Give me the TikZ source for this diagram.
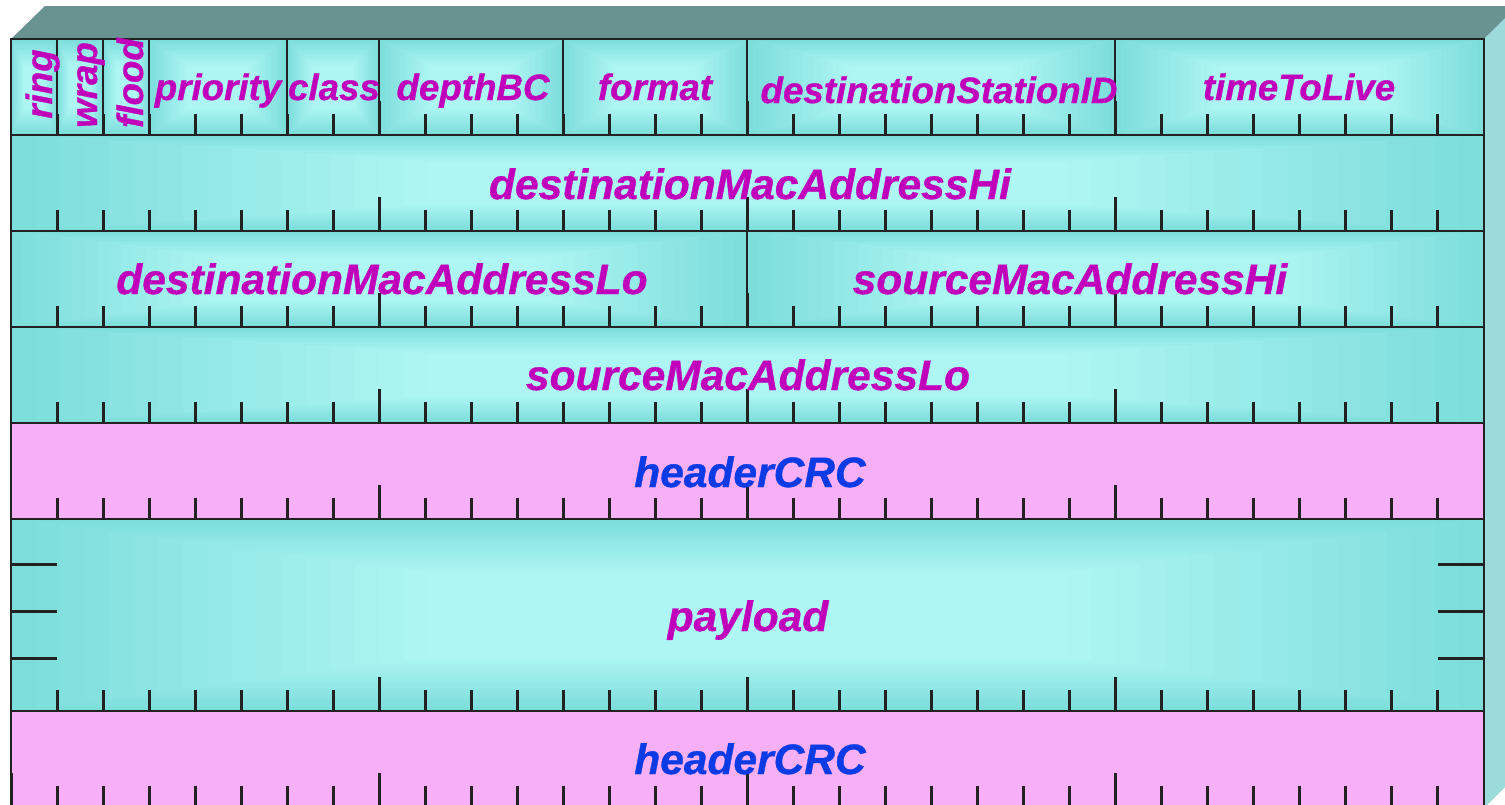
\documentclass[tikz,border=0pt]{standalone}
\usepackage{fontspec}
\setmainfont{Liberation Sans}[BoldItalicFeatures={FakeBold=0.8}]
\definecolor{cyandark}{RGB}{124,221,219}
\definecolor{cyanlight}{RGB}{174,246,243}
\definecolor{pinkfill}{RGB}{247,176,247}
\definecolor{topface}{RGB}{104,147,145}
\definecolor{sideface}{RGB}{157,218,218}
\definecolor{edge}{RGB}{34,34,34}
\definecolor{magtext}{RGB}{192,0,186}
\definecolor{bluetext}{RGB}{12,58,228}

% rectangular glow: dark rim, light centre
\newcommand\glowcell[4]{%
  \pgfmathsetmacro\gcx{(#1+#3)/2}%
  \pgfmathsetmacro\gcy{(#2+#4)/2}%
  \pgfmathsetmacro\ghw{(#3-#1)/2}%
  \pgfmathsetmacro\ghh{(#4-#2)/2}%
  \foreach \i in {0,...,29}{%
    \pgfmathsetmacro\f{\i/30}%
    \pgfmathtruncatemacro\pc{min(100,\f/0.55*100)}%
    \fill[cyanlight!\pc!cyandark]
      ({\gcx-\ghw*(1-\f)},{\gcy-\ghh*(1-\f)}) rectangle
      ({\gcx+\ghw*(1-\f)},{\gcy+\ghh*(1-\f)});
  }%
}

\tikzset{
  rowedge/.style={draw=edge, line width=2.8pt},
  divider/.style={draw=edge, line width=1.8pt},
  tick/.style={draw=edge, line width=3pt},
  biglbl/.style={inner sep=0pt, anchor=base, text=magtext,
    font=\fontsize{42.5}{50}\selectfont\bfseries\itshape},
  smalllbl/.style={inner sep=0pt, anchor=base, text=magtext,
    font=\fontsize{36.7}{44}\selectfont\bfseries\itshape},
  crclbl/.style={biglbl, text=bluetext},
}

\begin{document}
\begin{tikzpicture}[x=1pt, y=-1pt]
\clip (0,0) rectangle (1505,804);

% block faces in perspective
\fill[topface] (11,39) -- (45,6) -- (1519,6) -- (1484,39) -- cycle;
\fill[sideface] (1484,39) -- (1518,5) -- (1518,774) -- (1484,808) -- cycle;

% row 1: individual fields
\foreach \a/\b in {11/57, 57/103, 103/149, 149/287, 287/379, 379/563, 563/747, 747/1115, 1115/1484}{
  \glowcell{\a}{39}{\b}{135}
}
% rows 2 to 4
\glowcell{11}{135}{1484}{231}
\glowcell{11}{231}{747}{327}
\glowcell{747}{231}{1484}{327}
\glowcell{11}{327}{1484}{423}
% header CRC
\fill[pinkfill] (11,423) rectangle (1484,519);
% payload
\glowcell{11}{519}{1484}{711}
% trailing CRC
\fill[pinkfill] (11,711) rectangle (1484,807);

% row outlines
\foreach \t/\u in {39/135, 135/231, 231/327, 327/423, 423/519, 519/711, 711/807}{
  \draw[rowedge] (11,\t) rectangle (1484,\u);
}

% field dividers
\foreach \x in {57, 103, 149, 287, 379, 563, 747, 1115}{
  \draw[divider] (\x,39) -- (\x,135);
}
\draw[divider] (747,231) -- (747,327);

% bit ticks along the lower edge of each row
\foreach \u in {135, 231, 327, 423, 519, 711, 807}{
  \foreach \k in {1,...,31}{
    \pgfmathtruncatemacro\m{mod(\k,8)}
    \pgfmathsetmacro\len{\m==0 ? 34 : 21}
    \draw[tick] ({11+46*\k},\u) -- ({11+46*\k},{\u-\len});
  }
}
\draw[tick] (11,807) -- (11,773);

% payload side ticks
\foreach \y in {564, 611, 658}{
  \draw[tick] (11,\y) -- (57,\y);
  \draw[tick] (1438,\y) -- (1484,\y);
}

% field names
\node[smalllbl, rotate=90] (ring)  at (52,84)  {ring};
\node[smalllbl, rotate=90] (wrap)  at (97,85)  {wrap};
\node[smalllbl, rotate=90] (flood) at (143,83) {flood};
\node[smalllbl] (prio)   at (218,100)  {priority};
\node[smalllbl] (cls)    at (334,100)  {class};
\node[smalllbl] (depth)  at (473,100)  {depthBC};
\node[smalllbl] (fmt)    at (655,100)  {format};
\node[smalllbl] (dsid)   at (939,103)  {destinationStationID};
\node[smalllbl] (ttl)    at (1299,100) {timeToLive};

\node[biglbl] (dmachi) at (750,199)  {destinationMacAddressHi};
\node[biglbl] (dmaclo) at (382,294)  {destinationMacAddressLo};
\node[biglbl] (smachi) at (1070,294) {sourceMacAddressHi};
\node[biglbl] (smaclo) at (748,390)  {sourceMacAddressLo};
\node[crclbl] (hcrc)   at (750,487)  {headerCRC};
\node[biglbl] (pay)    at (748,631)  {payload};
\node[crclbl] (tcrc)   at (750,774)  {headerCRC};
\end{tikzpicture}
\end{document}
